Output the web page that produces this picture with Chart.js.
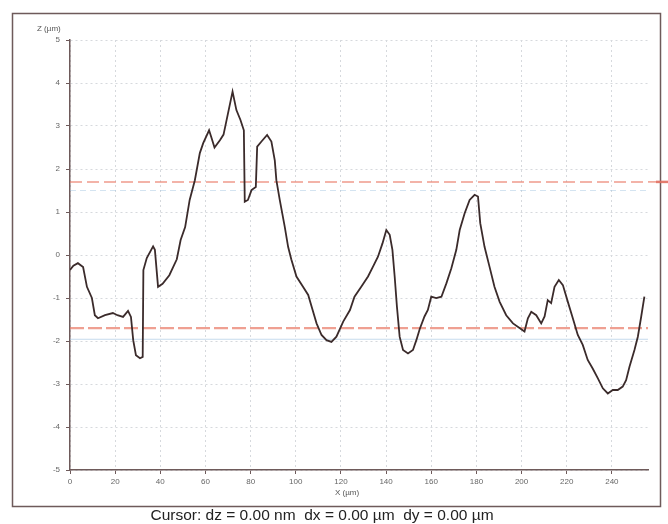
<!DOCTYPE html>
<html>
<head>
<meta charset="utf-8">
<script src="https://cdn.jsdelivr.net/npm/chart.js@4.4.1/dist/chart.umd.min.js"></script>
<style>
  html, body { margin: 0; padding: 0; background: #fff; }
  #wrap { width: 668px; height: 524px; position: relative; }
</style>
</head>
<body>
<div id="wrap"><canvas id="profil"></canvas></div>
<script>
// profile: X in µm, Z in µm
const profileX = [0, 1.5, 3.5, 5.8, 7.5, 9.7, 11, 12.4, 15.5, 19, 21, 23.5, 25.7, 27, 28, 29.2, 31, 32.2, 32.5, 34,
  36.8, 37.6, 39, 41, 44, 47.3, 49, 51, 53, 55.3, 57.5, 59, 61.6, 62.7, 64, 66.4, 68, 70, 72, 73.7,
  75.5, 77, 77.4, 78.8, 80.4, 82.3, 82.9, 84.8, 87.3, 89.2, 90.7, 91.4, 92.9, 95.1, 96.6, 98, 100.3, 103.2, 105.5, 107,
  109.2, 111.4, 113.6, 115.8, 118, 121, 124, 126, 129, 132, 134.2, 136.4, 138.4, 140.1, 141.6, 142.8, 143.8, 144.8, 146, 147.5,
  149.7, 151.9, 153.4, 154.9, 157, 158.5, 160, 162.2, 164.5, 166.7, 168.9, 171.1, 172.6, 174.8, 177, 179.2, 180.7, 181.7, 183.6, 185.8,
  188, 190.3, 193.2, 196.2, 199.1, 201.3, 202.8, 204.3, 206.5, 208.7, 210.2, 211.6, 213.1, 214.6, 216.5, 218.3, 220.5, 222.7, 224.9, 227.1,
  229.3, 231.5, 233.8, 236, 238.2, 240.4, 242.6, 244.8, 246.3, 247.8, 250, 251.5, 253, 254.4];
const profileZ = [-0.35, -0.25, -0.19, -0.28, -0.74, -1.0, -1.4, -1.47, -1.4, -1.35, -1.4, -1.44, -1.3, -1.44, -1.98, -2.33, -2.4, -2.37, -0.35, -0.07,
  0.2, 0.12, -0.74, -0.67, -0.47, -0.1, 0.35, 0.65, 1.28, 1.74, 2.37, 2.6, 2.9, 2.72, 2.5, 2.67, 2.8, 3.3, 3.8, 3.37,
  3.14, 2.9, 1.24, 1.28, 1.51, 1.58, 2.52, 2.64, 2.79, 2.64, 2.2, 1.74, 1.28, 0.66, 0.19, -0.1, -0.5, -0.74, -0.93, -1.2,
  -1.59, -1.86, -1.98, -2.02, -1.9, -1.55, -1.28, -0.97, -0.74, -0.5, -0.27, -0.04, 0.27, 0.58, 0.47, 0.12, -0.5, -1.2, -1.9, -2.21,
  -2.29, -2.21, -1.98, -1.72, -1.43, -1.28, -0.97, -1.0, -0.97, -0.66, -0.31, 0.12, 0.58, 0.97, 1.28, 1.4, 1.36, 0.74, 0.19, -0.27,
  -0.74, -1.09, -1.4, -1.59, -1.7, -1.78, -1.47, -1.32, -1.4, -1.59, -1.43, -1.05, -1.12, -0.74, -0.58, -0.7, -1.09, -1.47, -1.86, -2.09,
  -2.44, -2.64, -2.87, -3.1, -3.22, -3.14, -3.14, -3.06, -2.91, -2.6, -2.21, -1.9, -1.43, -0.97];

const xRange = [0, 256];
const zRange = [-5, 5];
const seuils = [1.7, -1.7];       // red cursor lines
const curseursBleus = [1.5, -1.96]; // faint blue lines

const pts = profileX.map((x, i) => ({ x: x, y: profileZ[i] }));
const ligne = z => [{ x: xRange[0], y: z }, { x: xRange[1], y: z }];

const cadre = {
  id: 'cadre',
  afterDraw(chart) {
    const c = chart.ctx, a = chart.chartArea;
    const ys = chart.scales.y;
    c.save();
    // outer frame
    c.strokeStyle = '#6e5a5a';
    c.lineWidth = 1.5;
    c.strokeRect(12.5, 13.5, 648, 493);
    // top red cursor runs out past the frame
    const yTop = ys.getPixelForValue(seuils[0]);
    c.strokeStyle = 'rgba(232,120,100,0.75)';
    c.lineWidth = 1.5;
    c.setLineDash([12, 5]);
    c.beginPath(); c.moveTo(a.right, yTop); c.lineTo(656, yTop); c.stroke();
    c.setLineDash([]);
    c.strokeStyle = 'rgba(225,110,95,0.9)';
    c.lineWidth = 2.5;
    c.beginPath(); c.moveTo(656, yTop); c.lineTo(668, yTop); c.stroke();
    // axis titles
    c.fillStyle = '#555';
    c.font = '8px "Liberation Sans", Arial, sans-serif';
    c.textAlign = 'left';
    c.textBaseline = 'middle';
    c.fillText('Z (µm)', 37, 29);
    c.textAlign = 'center';
    c.fillText('X (µm)', 347, 493);
    // cursor readout
    c.fillStyle = '#222';
    c.font = '15.5px "Liberation Sans", Arial, sans-serif';
    c.fillText('Cursor: dz = 0.00 nm  dx = 0.00 µm  dy = 0.00 µm', 322, 516);
    c.restore();
  }
};

new Chart(document.getElementById('profil'), {
  type: 'line',
  data: {
    datasets: [
      { data: pts, borderColor: '#3b2b2b', borderWidth: 1.8, pointRadius: 0, tension: 0 },
      { data: ligne(seuils[0]), borderColor: 'rgba(232,120,100,0.75)', borderWidth: 1.5, borderDash: [12, 5], pointRadius: 0 },
      { data: ligne(seuils[1]), borderColor: 'rgba(232,120,100,0.7)', borderWidth: 2.2, borderDash: [14, 4], pointRadius: 0 },
      { data: ligne(curseursBleus[0]), borderColor: 'rgba(160,195,225,0.45)', borderWidth: 1, borderDash: [6, 4], pointRadius: 0 },
      { data: ligne(curseursBleus[1]), borderColor: 'rgba(160,195,225,0.6)', borderWidth: 1, pointRadius: 0 }
    ]
  },
  options: {
    responsive: true,
    maintainAspectRatio: false,
    animation: false,
    layout: { padding: { left: 12, top: 40, right: 20, bottom: 24 } },
    plugins: { legend: { display: false }, tooltip: { enabled: false } },
    scales: {
      x: {
        type: 'linear', min: xRange[0], max: xRange[1],
        afterFit(s) { s.height = 30; },
        grid: { color: '#d6d9dd', tickColor: '#6e5a5a', tickLength: 4, tickBorderDash: [] },
        border: { color: '#6e5a5a', width: 1.5, dash: [2, 3] },
        ticks: { stepSize: 20, includeBounds: false, color: '#666', padding: 3, maxRotation: 0,
          font: { size: 8, family: '"Liberation Sans", Arial, sans-serif' } }
      },
      y: {
        type: 'linear', min: zRange[0], max: zRange[1],
        afterFit(s) { s.width = 58; },
        grid: { color: '#d6d9dd', tickColor: '#6e5a5a', tickLength: 4, tickBorderDash: [] },
        border: { color: '#6e5a5a', width: 1.5, dash: [2, 3] },
        ticks: { stepSize: 1, color: '#666', padding: 6,
          font: { size: 8, family: '"Liberation Sans", Arial, sans-serif' } }
      }
    }
  },
  plugins: [cadre]
});
</script>
</body>
</html>
